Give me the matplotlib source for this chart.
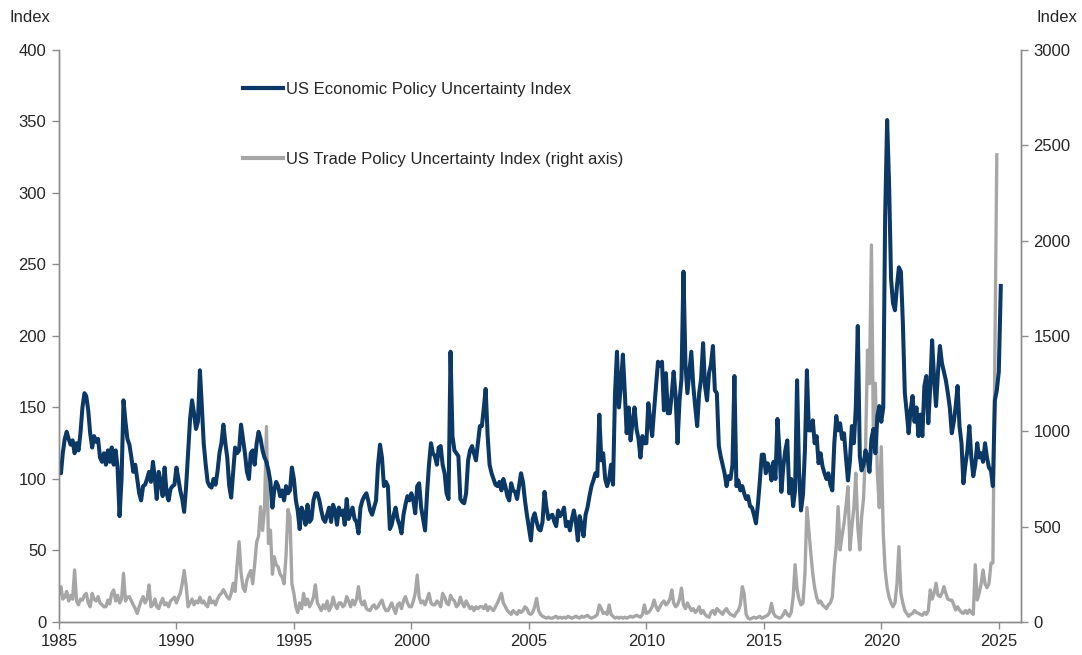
import numpy as np
import pandas as pd
import matplotlib
matplotlib.use("Agg")
import matplotlib.pyplot as plt
import matplotlib.dates as mdates
from matplotlib.lines import Line2D

# monthly values, Jan 1985 onwards
epu_values = [
    111, 104, 118, 128, 133, 128, 124, 127, 118, 125, 120, 132,  # 1985
    150, 160, 158, 148, 132, 122, 130, 126, 128, 115, 112, 118,  # 1986
    110, 120, 112, 122, 110, 120, 108, 74, 100, 155, 140, 128,   # 1987
    124, 115, 105, 110, 100, 90, 85, 95, 96, 100, 105, 98,       # 1988
    112, 100, 86, 105, 98, 88, 108, 90, 85, 93, 95, 96,          # 1989
    108, 100, 92, 86, 77, 95, 118, 142, 155, 146, 135, 140,      # 1990
    176, 150, 125, 110, 98, 95, 94, 100, 96, 105, 118, 125,      # 1991
    138, 125, 115, 95, 87, 105, 122, 118, 120, 138, 128, 118,    # 1992
    105, 100, 118, 120, 110, 125, 133, 128, 120, 115, 112, 106,  # 1993
    98, 80, 92, 98, 95, 88, 92, 85, 95, 90, 92, 108,             # 1994
    100, 85, 78, 65, 80, 76, 68, 82, 70, 72, 85, 90,             # 1995
    90, 85, 78, 72, 70, 75, 80, 70, 82, 78, 68, 80,              # 1996
    75, 78, 68, 86, 72, 76, 80, 72, 70, 62, 80, 85,              # 1997
    88, 90, 85, 78, 75, 80, 85, 110, 124, 115, 95, 98,           # 1998
    95, 65, 68, 75, 80, 72, 68, 62, 75, 82, 88, 85,              # 1999
    90, 85, 76, 95, 97, 80, 72, 64, 90, 110, 125, 118,           # 2000
    116, 110, 122, 123, 110, 104, 90, 86, 189, 130, 120, 118,    # 2001
    116, 86, 84, 83, 90, 113, 120, 123, 118, 113, 125, 137,      # 2002
    137, 150, 163, 130, 110, 104, 100, 96, 95, 98, 92, 100,      # 2003
    95, 88, 85, 97, 92, 91, 86, 95, 104, 98, 85, 75,             # 2004
    66, 57, 72, 76, 70, 65, 64, 70, 91, 80, 72, 74,              # 2005
    75, 70, 67, 78, 74, 76, 80, 67, 70, 64, 72, 78,              # 2006
    70, 57, 74, 68, 60, 75, 80, 88, 95, 99, 104, 102,            # 2007
    145, 113, 118, 100, 95, 100, 110, 96, 160, 189, 150, 165,    # 2008
    187, 160, 132, 150, 127, 140, 150, 135, 128, 115, 130, 125,  # 2009
    125, 153, 141, 130, 148, 165, 182, 179, 182, 148, 174, 146,  # 2010
    146, 160, 175, 158, 125, 155, 170, 245, 180, 160, 175, 189,  # 2011
    165, 150, 137, 160, 170, 195, 165, 155, 174, 180, 193, 162,  # 2012
    160, 123, 116, 110, 104, 95, 102, 100, 110, 172, 95, 99,     # 2013
    92, 95, 90, 86, 88, 81, 80, 75, 69, 82, 99, 117,             # 2014
    117, 104, 111, 108, 99, 112, 100, 142, 120, 91, 109, 120,    # 2015
    127, 90, 100, 81, 92, 169, 106, 78, 89, 120, 176, 134,       # 2016
    134, 141, 125, 130, 111, 118, 109, 104, 100, 104, 96, 92,    # 2017
    125, 144, 134, 139, 128, 132, 115, 99, 113, 137, 125, 150,   # 2018
    207, 116, 106, 110, 120, 115, 105, 128, 135, 118, 144, 151,  # 2019
    140, 150, 283, 351, 307, 240, 223, 218, 235, 248, 245, 210,  # 2020
    160, 146, 132, 148, 158, 140, 150, 130, 145, 130, 165, 172,  # 2021
    139, 165, 197, 170, 151, 175, 193, 181, 175, 169, 160, 150,  # 2022
    132, 140, 150, 165, 137, 125, 97, 110, 120, 137, 115, 102,   # 2023
    110, 125, 115, 118, 112, 125, 115, 108, 106, 95, 155, 162,   # 2024
    175, 235,                                                    # 2025
]

tpu_values = [
    150, 185, 120, 130, 160, 110, 140, 120, 273, 110, 90, 120,   # 1985
    115, 140, 150, 100, 80, 150, 120, 110, 133, 100, 90, 80,     # 1986
    80, 115, 95, 150, 168, 110, 140, 100, 120, 255, 110, 130,    # 1987
    133, 110, 90, 70, 45, 80, 110, 133, 100, 120, 194, 80,       # 1988
    90, 120, 80, 70, 100, 124, 90, 100, 80, 110, 120, 130,       # 1989
    100, 130, 150, 200, 270, 190, 80, 100, 120, 90, 110, 100,    # 1990
    130, 100, 110, 90, 80, 130, 100, 110, 90, 120, 140, 150,     # 1991
    170, 150, 130, 120, 150, 203, 160, 300, 421, 260, 180, 160,  # 1992
    220, 250, 270, 200, 300, 420, 450, 605, 480, 590, 1025, 412, # 1993
    482, 250, 342, 300, 289, 250, 236, 200, 350, 590, 552, 200,  # 1994
    149, 79, 50, 100, 70, 150, 90, 120, 80, 100, 130, 195,       # 1995
    100, 80, 60, 90, 70, 110, 60, 80, 130, 90, 70, 100,          # 1996
    100, 80, 90, 133, 110, 80, 115, 90, 120, 185, 110, 90,       # 1997
    110, 70, 63, 60, 80, 90, 70, 80, 100, 115, 80, 60,           # 1998
    60, 80, 100, 70, 45, 90, 100, 70, 110, 133, 100, 80,         # 1999
    80, 110, 150, 246, 130, 100, 110, 90, 120, 150, 100, 90,     # 2000
    90, 110, 100, 80, 150, 130, 100, 90, 140, 120, 110, 80,      # 2001
    90, 130, 100, 80, 110, 90, 70, 80, 60, 80, 70, 80,           # 2002
    80, 70, 90, 60, 80, 70, 60, 80, 100, 124, 150, 100,          # 2003
    80, 60, 50, 40, 60, 50, 40, 60, 50, 60, 80, 70,              # 2004
    45, 40, 50, 80, 124, 60, 40, 30, 25, 20, 25, 20,             # 2005
    20, 25, 30, 20, 25, 20, 25, 20, 30, 25, 20, 25,              # 2006
    30, 25, 20, 30, 25, 30, 35, 25, 20, 25, 30, 40,              # 2007
    89, 70, 45, 50, 40, 89, 40, 30, 20, 25, 20, 25,              # 2008
    20, 25, 20, 25, 30, 25, 30, 35, 30, 25, 40, 89,              # 2009
    45, 50, 60, 80, 115, 80, 60, 80, 100, 110, 90, 100,          # 2010
    120, 168, 100, 80, 90, 120, 177, 90, 70, 100, 80, 60,        # 2011
    70, 50, 60, 80, 45, 60, 40, 30, 25, 50, 60, 40,              # 2012
    70, 60, 50, 40, 60, 70, 50, 40, 35, 30, 50, 60,              # 2013
    90, 185, 150, 40, 20, 15, 20, 25, 20, 25, 30, 20,            # 2014
    25, 30, 35, 50, 98, 45, 30, 25, 20, 25, 40, 60,              # 2015
    40, 30, 50, 130, 300, 170, 120, 90, 100, 250, 600, 480,      # 2016
    360, 250, 180, 130, 100, 110, 90, 80, 70, 90, 100, 130,      # 2017
    290, 400, 605, 378, 450, 517, 605, 710, 378, 500, 600, 780,  # 2018
    500, 378, 550, 650, 900, 1426, 1250, 1977, 954, 1252, 780, 600,  # 2019
    919, 465, 273, 180, 130, 100, 80, 100, 200, 395, 150, 100,   # 2020
    60, 45, 30, 40, 45, 60, 50, 45, 40, 35, 50, 40,              # 2021
    60, 168, 120, 150, 203, 140, 133, 150, 185, 150, 120, 115,   # 2022
    115, 90, 63, 80, 63, 50, 45, 60, 45, 63, 50, 40,             # 2023
    300, 115, 150, 200, 273, 200, 180, 200, 308, 310, 1400, 2450,  # 2024
]

epu_label = "US Economic Policy Uncertainty Index"
tpu_label = "US Trade Policy Uncertainty Index (right axis)"
left_ticks = [0, 50, 100, 150, 200, 250, 300, 350, 400]
right_ticks = [0, 500, 1000, 1500, 2000, 2500, 3000]

navy = "#0c3866"
grey = "#a6a6a6"
axis_grey = "#8c8c8c"
text_col = "#262626"

plt.rcParams["font.family"] = ["Liberation Sans", "DejaVu Sans"]
plt.rcParams["font.size"] = 12

epu_dates = pd.date_range("1985-01-01", periods=len(epu_values), freq="MS")
tpu_dates = pd.date_range("1985-01-01", periods=len(tpu_values), freq="MS")

fig = plt.figure(figsize=(10.82, 6.55), dpi=100)
ax = fig.add_axes([0.0545, 0.0504, 0.889, 0.8733])
ax2 = ax.twinx()

ax2.plot(tpu_dates, tpu_values, color=grey, lw=2.4, solid_joinstyle="round")
ax.plot(epu_dates, epu_values, color=navy, lw=2.9, solid_joinstyle="round")

# blue series drawn on top of the grey one
ax.set_zorder(ax2.get_zorder() + 1)
ax.patch.set_visible(False)

ax.set_xlim(pd.Timestamp("1985-01-01"), pd.Timestamp("2025-12-10"))
ax.set_ylim(0, 400)
ax2.set_ylim(0, 3000)
ax.set_yticks(left_ticks)
ax2.set_yticks(right_ticks)
ax.xaxis.set_major_locator(mdates.YearLocator(5))
ax.xaxis.set_major_formatter(mdates.DateFormatter("%Y"))

for a in (ax, ax2):
    a.spines["top"].set_visible(False)
    for s in ("left", "right", "bottom"):
        a.spines[s].set_color(axis_grey)
        a.spines[s].set_linewidth(1.0)
    a.tick_params(axis="both", direction="out", length=5, width=1.0,
                  color=axis_grey, labelcolor=text_col, labelsize=12, pad=4)

fig.text(0.009, 0.974, "Index", ha="left", va="center", fontsize=12, color=text_col)
fig.text(0.996, 0.974, "Index", ha="right", va="center", fontsize=12, color=text_col)

handles = [Line2D([], [], color=navy, lw=3.0), Line2D([], [], color=grey, lw=3.0)]
ax.legend(handles, [epu_label, tpu_label], loc="upper left",
          bbox_to_anchor=(243 / 1082, (655 - 82) / 655), bbox_transform=fig.transFigure,
          frameon=False, borderpad=0, borderaxespad=0, labelspacing=3.3,
          handlelength=2.4, handletextpad=0.2, fontsize=12, labelcolor=text_col)

fig.savefig("out.png", dpi=100)
